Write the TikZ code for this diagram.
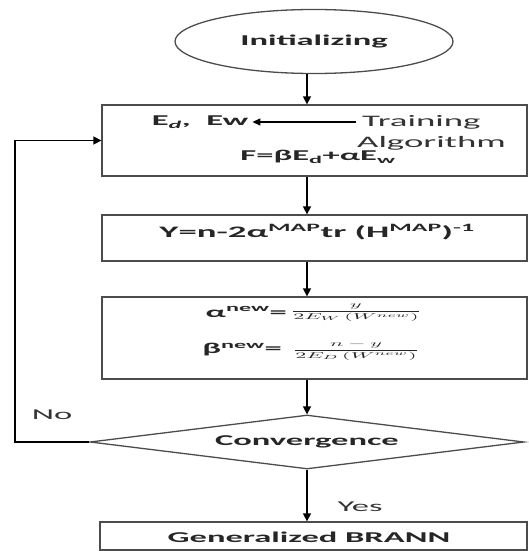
\documentclass[tikz,border=0pt]{standalone}
\usepackage{fontspec}
\usepackage{graphicx}
\setmainfont{Carlito}[FakeStretch=2.3]
\usetikzlibrary{shapes.geometric,arrows.meta}
\begin{document}
\begin{tikzpicture}[x=1pt,y=-1pt,
  box/.style={draw=black!70, line width=1.3pt, rectangle, inner sep=0},
  arr/.style={line width=1.5pt, -{Triangle[length=8pt,width=8pt]}},
  thinarr/.style={line width=1.1pt, -{Triangle[length=8pt,width=7pt]}},
  lab/.style={font=\fontsize{15}{17}\selectfont\bfseries, inner sep=0, text=black!85},
  plain/.style={font=\fontsize{16}{18}\selectfont, inner sep=0, text=black!80},
  small/.style={font=\fontsize{15}{17}\selectfont, inner sep=0, text=black!80},
  frac/.style={inner sep=0, text=black!85}
]
\useasboundingbox (0,0) rectangle (528,551);
% nodes
\node[draw=black!70, line width=1.3pt, ellipse, minimum width=278pt, minimum height=64pt, inner sep=0, font=\fontsize{15}{17}\selectfont\bfseries, text=black!85] (init) at (314,41.5) {Initializing};
\node[box, minimum width=425pt, minimum height=71pt] (b1) at (314.5,140.5) {};
\node[box, minimum width=425pt, minimum height=46pt] (b2) at (314.5,238) {};
\node[box, minimum width=425pt, minimum height=82pt] (b3) at (314.5,338) {};
\node[draw=black!70, line width=1.3pt, diamond, minimum width=434pt, minimum height=54pt, inner sep=0] (dia) at (307,442) {};
\node[box, minimum width=427pt, minimum height=28pt] (b4) at (313.5,536) {};
% texts
\node[lab] (ed) at (200,122) {E\textsubscript{\textit{d}},\ \ Ew};
\node[plain, anchor=west] (train) at (362,122) {Training};
\node[plain, anchor=west] (alg) at (357,143) {Algorithm};
\node[lab] (F) at (318,157) {F=βE\textsubscript{d}+αE\textsubscript{w}};
\node[lab, font=\fontsize{16}{18}\selectfont\bfseries] (Y) at (317,232) {Y=n-2α\textsuperscript{MAP}tr (H\textsuperscript{MAP})\textsuperscript{-1}};
\node[lab, anchor=east] (an) at (287,312) {α\textsuperscript{new}=};
\node[frac] (af) at (356,313) {\fontsize{10}{12}\selectfont\scalebox{2.2}[0.85]{$\displaystyle\frac{y}{2E_W\,(W^{new})}$}};
\node[lab, anchor=east] (bn) at (282,350) {β\textsuperscript{new}=};
\node[frac] (bf) at (356,351) {\fontsize{10}{12}\selectfont\scalebox{2.2}[0.85]{$\displaystyle\frac{n-y}{2E_D\,(W^{new})}$}};
\node[lab] (conv) at (dia) {Convergence};
\node[lab] (gen) at (309,537) {Generalized BRANN};
\node[small] (no) at (52,415) {No};
\node[small] (yes) at (360,507) {Yes};
% connectors
\coordinate (ax) at (307,0);
\coordinate (lp) at (15,0);
\draw[arr] (ax |- init.south) -- (ax |- b1.north);
\draw[arr] (ax |- b1.south) -- (ax |- b2.north);
\draw[arr] (ax |- b2.south) -- (ax |- b3.north);
\draw[arr] (ax |- b3.south) -- (dia.north);
\draw[arr] (dia.south) -- (ax |- b4.north);
\draw[arr] (dia.west) -- (lp |- dia.west) -- (lp |- b1.west) -- (b1.west);
\draw[thinarr, shorten <=6pt, shorten >=4pt] (train.west) -- (train.west -| ed.east);
\end{tikzpicture}
\end{document}
